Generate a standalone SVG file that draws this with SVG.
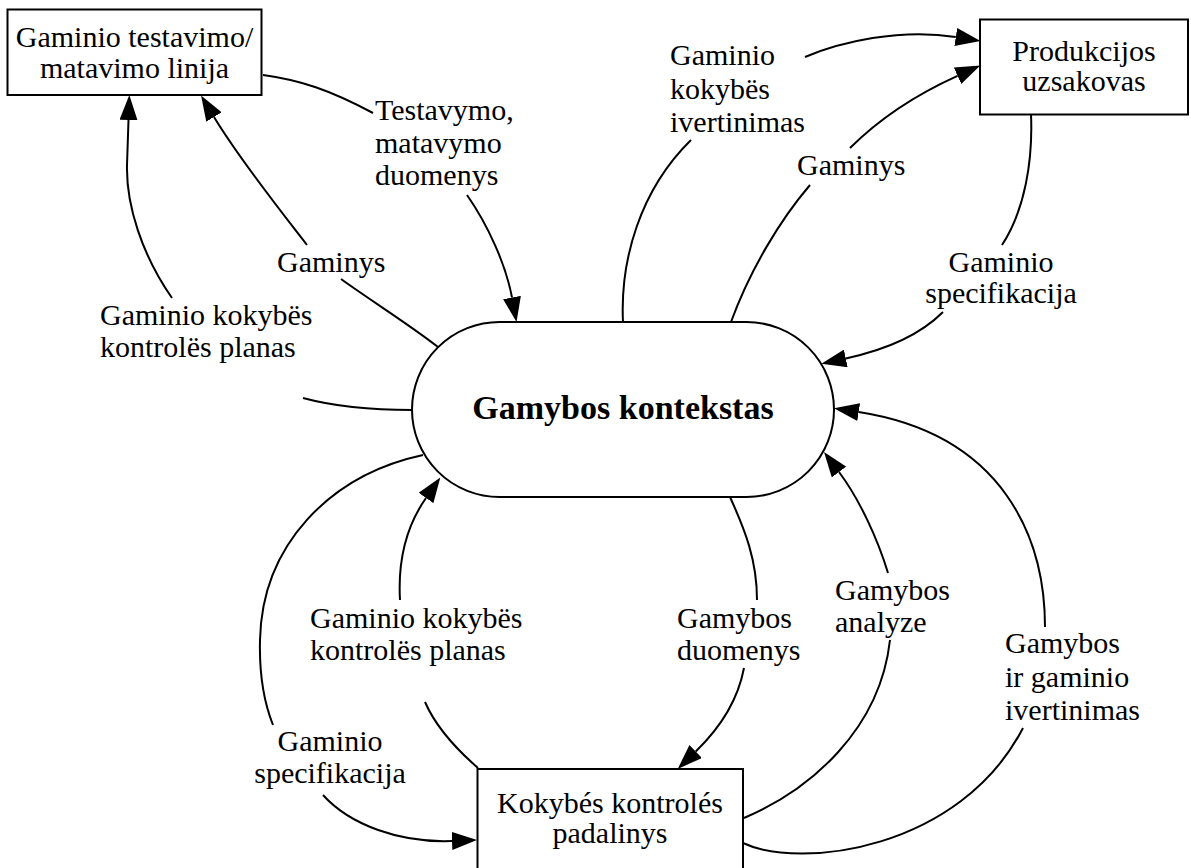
<svg xmlns="http://www.w3.org/2000/svg" width="1191" height="868" viewBox="0 0 1191 868">
  <style>
    .box { fill: #ffffff; stroke: #000000; stroke-width: 2; }
    .edge { fill: none; stroke: #000000; stroke-width: 2; }
    .arrow { marker-end: url(#head); }
    text { font-family: "Liberation Serif", "Times New Roman", serif; font-size: 30px; fill: #000000; }
    .mid { text-anchor: middle; }
    .title { font-weight: bold; font-size: 34px; }
  </style>
  <defs>
    <marker id="head" markerUnits="userSpaceOnUse" viewBox="0 -9 25 18" refX="0" refY="0" markerWidth="25" markerHeight="18" orient="auto">
      <path d="M0,-9 L25,0 L0,9 z" fill="#000000"/>
    </marker>
  </defs>
  <rect width="1191" height="868" fill="#ffffff"/>

  <!-- connectors: each flow is split at its label -->
  <g id="connectors">
    <!-- Gamybos kontekstas -> testavimo linija : kokybes kontroles planas -->
    <path class="edge" d="M412,410 C380,410 340,408 303,398"/>
    <path class="edge arrow" d="M172,298 C142,255 126,205 127,165 L128.5,120"/>
    <!-- Gamybos kontekstas -> testavimo linija : Gaminys -->
    <path class="edge" d="M438,347 C410,325 370,300 341,279"/>
    <path class="edge arrow" d="M307,245 C280,210 240,160 214,117"/>
    <!-- testavimo linija -> Gamybos kontekstas : duomenys -->
    <path class="edge" d="M263,75 C300,80 330,90 373,113"/>
    <path class="edge arrow" d="M467,195 C488,225 506,265 512,297.5"/>
    <!-- Gamybos kontekstas -> uzsakovas : kokybes ivertinimas -->
    <path class="edge" d="M623,322 C620,260 640,190 691,140"/>
    <path class="edge arrow" d="M805,57 C840,42 900,28 955.8,37"/>
    <!-- Gamybos kontekstas -> uzsakovas : Gaminys -->
    <path class="edge" d="M731,322 C750,270 780,220 810,185"/>
    <path class="edge arrow" d="M850,148 C878,120 915,95 957.5,75.8"/>
    <!-- uzsakovas -> Gamybos kontekstas : specifikacija -->
    <path class="edge" d="M1031,114 C1033,160 1025,210 1002,245"/>
    <path class="edge arrow" d="M943,312 C920,335 885,350 845.8,358.4"/>
    <!-- padalinys -> Gamybos kontekstas : gamybos ir gaminio ivertinimas -->
    <path class="edge" d="M743,843 C800,870 960,850 1023,728"/>
    <path class="edge arrow" d="M1045,627 C1045,540 1005,435 858.7,412.1"/>
    <!-- padalinys -> Gamybos kontekstas : analyze -->
    <path class="edge" d="M744,818 C810,790 880,730 890,640"/>
    <path class="edge arrow" d="M888,573 C878,540 860,500 839,472"/>
    <!-- Gamybos kontekstas -> padalinys : duomenys -->
    <path class="edge" d="M730,497 C745,530 757,560 757,600"/>
    <path class="edge arrow" d="M744,668 C738,700 720,728 695.7,751.5"/>
    <!-- padalinys -> Gamybos kontekstas : kokybes kontroles planas -->
    <path class="edge" d="M478,768 C455,748 435,725 425,702"/>
    <path class="edge arrow" d="M400,600 C398,565 405,528 426,498"/>
    <!-- Gamybos kontekstas -> padalinys : specifikacija -->
    <path class="edge" d="M423,455 C330,475 262,545 260,640 C259,680 265,705 273,725"/>
    <path class="edge arrow" d="M323,795 C350,825 400,843 452,841"/>
  </g>

  <!-- flow labels -->
  <g id="labels">
    <text x="100" y="325">Gaminio kokybës</text>
    <text x="100" y="357">kontrolës planas</text>
    <text x="277" y="272">Gaminys</text>
    <text x="375" y="120">Testavymo,</text>
    <text x="375" y="153">matavymo</text>
    <text x="375" y="185">duomenys</text>
    <text x="670" y="65">Gaminio</text>
    <text x="670" y="99">kokybës</text>
    <text x="670" y="132">ivertinimas</text>
    <text x="797" y="175">Gaminys</text>
    <text class="mid" x="1001" y="272">Gaminio</text>
    <text class="mid" x="1001" y="303">specifikacija</text>
    <text x="1005" y="653">Gamybos</text>
    <text x="1005" y="687">ir gaminio</text>
    <text x="1005" y="720">ivertinimas</text>
    <text x="835" y="600">Gamybos</text>
    <text x="835" y="632">analyze</text>
    <text x="677" y="628">Gamybos</text>
    <text x="677" y="660">duomenys</text>
    <text x="310" y="628">Gaminio kokybës</text>
    <text x="310" y="660">kontrolës planas</text>
    <text class="mid" x="330" y="751">Gaminio</text>
    <text class="mid" x="330" y="783">specifikacija</text>
  </g>

  <g id="node-testavimo-linija">
    <rect class="box" x="7.5" y="9.5" width="254" height="85.5"/>
    <text class="mid" x="134.5" y="46.5">Gaminio testavimo/</text>
    <text class="mid" x="134.5" y="77.5">matavimo linija</text>
  </g>

  <g id="node-uzsakovas">
    <rect class="box" x="980" y="19.5" width="208" height="95"/>
    <text class="mid" x="1084" y="61">Produkcijos</text>
    <text class="mid" x="1084" y="91">uzsakovas</text>
  </g>

  <g id="node-gamybos-kontekstas">
    <rect class="box" x="412" y="322" width="422" height="175" rx="87.5" ry="87.5"/>
    <text class="mid title" x="623" y="419">Gamybos kontekstas</text>
  </g>

  <g id="node-padalinys">
    <rect class="box" x="477.5" y="769" width="265.5" height="120"/>
    <text class="mid" x="610" y="813">Kokybés kontrolés</text>
    <text class="mid" x="610" y="843">padalinys</text>
  </g>
</svg>
